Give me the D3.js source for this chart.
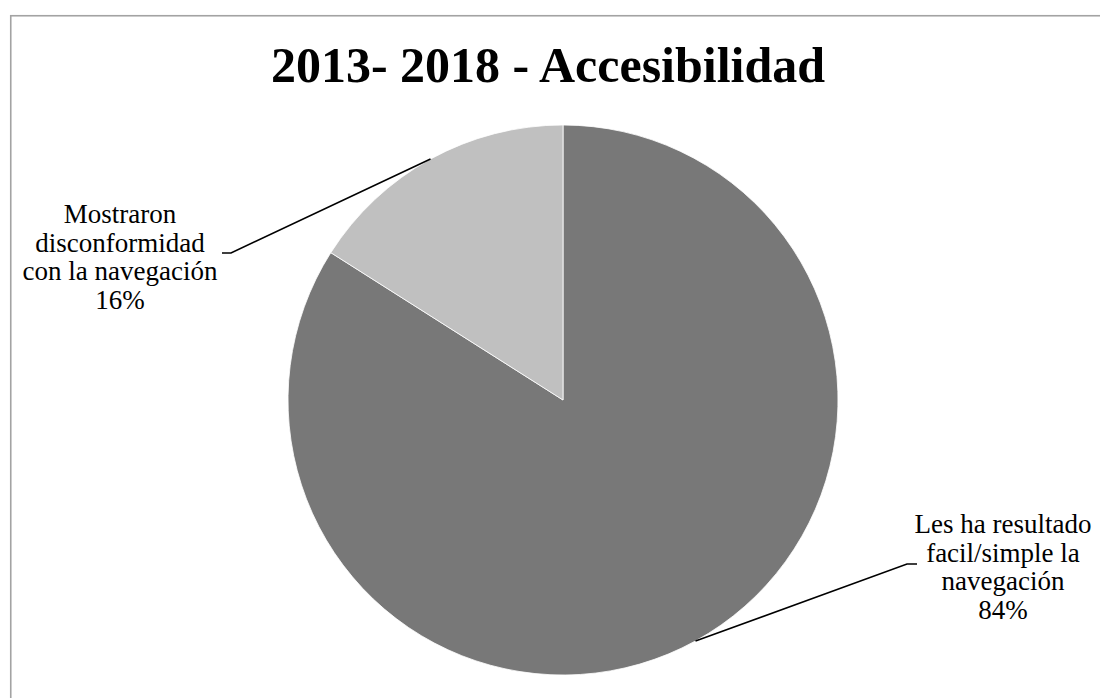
<!DOCTYPE html>
<html>
<head>
<meta charset="utf-8">
<script src="https://cdn.jsdelivr.net/npm/d3@7"></script>
<style>
  html, body { margin: 0; padding: 0; background: #ffffff; }
  svg { display: block; }
</style>
</head>
<body>
<svg id="chart" width="1100" height="698"></svg>
<script>
// Chart data
const title = "2013- 2018 - Accesibilidad";
const categories = [
  "Les ha resultado facil/simple la navegación",
  "Mostraron disconformidad con la navegación"
];
const labelLines = [
  ["Les ha resultado", "facil/simple la", "navegación"],
  ["Mostraron", "disconformidad", "con la navegación"]
];
const values = [84, 16];
const colors = ["#787878", "#c0c0c0"];

const W = 1100, H = 698;
const svg = d3.select("#chart");
const fontFamily = "'Liberation Serif', 'Times New Roman', serif";

// chart area frame
svg.append("rect")
  .attr("x", 10.75).attr("y", 15.75)
  .attr("width", W + 20).attr("height", H + 20)
  .attr("fill", "#ffffff")
  .attr("stroke", "#a3a3a3")
  .attr("stroke-width", 1.6);

// title
svg.append("text")
  .attr("x", 548).attr("y", 82)
  .attr("text-anchor", "middle")
  .attr("font-family", fontFamily)
  .attr("font-weight", "bold")
  .attr("font-size", 50)
  .attr("fill", "#000")
  .text(title);

const cx = 563, cy = 400, r = 275;
const g = svg.append("g").attr("transform", `translate(${cx},${cy})`);

const pie = d3.pie().sort(null).value(d => d)(values);
const arc = d3.arc().innerRadius(0).outerRadius(r);

g.selectAll("path.slice")
  .data(pie)
  .join("path")
  .attr("class", "slice")
  .attr("d", arc)
  .attr("fill", (d, i) => colors[i])
  .attr("stroke", "#ffffff")
  .attr("stroke-width", 0.8);

// label placement: text block centre and leader elbow for each slice
const labelPos = [
  { x: 1003, y: 533, elbow: [907, 564], end: [917, 564] },
  { x: 120,  y: 223, elbow: [231, 253], end: [222, 253] }
];
const lineH = 28.5;

pie.forEach((d, i) => {
  const mid = (d.startAngle + d.endAngle) / 2;
  const px = cx + r * Math.sin(mid);
  const py = cy - r * Math.cos(mid);
  const p = labelPos[i];

  svg.append("polyline")
    .attr("points", [[px, py], p.elbow, p.end].map(q => q.join(",")).join(" "))
    .attr("fill", "none")
    .attr("stroke", "#000")
    .attr("stroke-width", 1.6);

  const t = svg.append("text")
    .attr("text-anchor", "middle")
    .attr("font-family", fontFamily)
    .attr("font-size", 27)
    .attr("fill", "#000");
  const lines = labelLines[i].concat([values[i] + "%"]);
  lines.forEach((s, k) => {
    t.append("tspan").attr("x", p.x).attr("y", p.y + k * lineH).text(s);
  });
});
</script>
</body>
</html>
